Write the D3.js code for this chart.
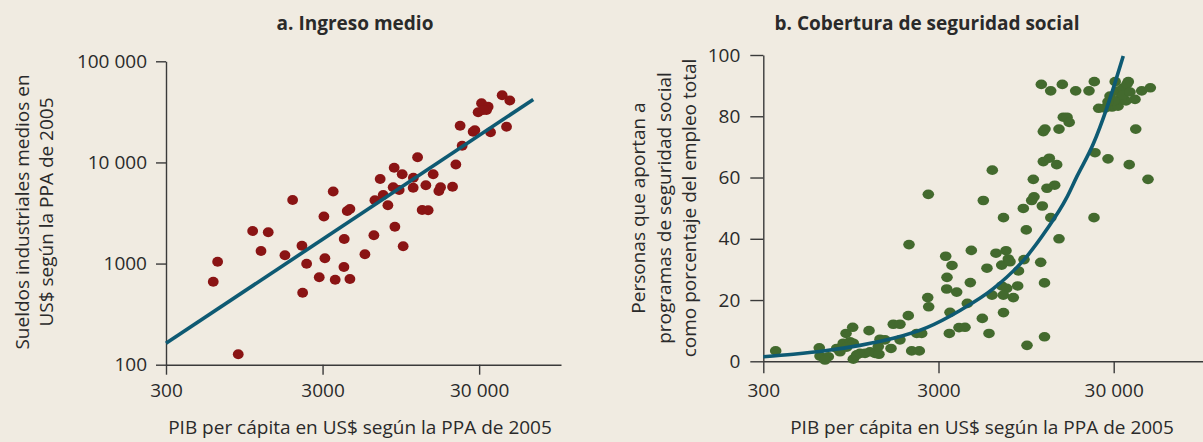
<!DOCTYPE html>
<html><head><meta charset="utf-8">
<script src="https://cdn.jsdelivr.net/npm/d3@7"></script>
<style>
html,body{margin:0;padding:0;background:#f0ebe1;}
svg{display:block;font-family:"Open Sans",sans-serif;}
</style></head>
<body><svg id="chart" width="1203" height="442"></svg>
<script>
// ---- Panel a: Ingreso medio ----
const wageGdp = [601,641,868,1073,1213,1349,1725,1932,2215,2238, 2373,2857,3060,3105,3508,3612,4125,4107,4311,4485, 4485,5593,6381,6477,6999,7317,7842,8475,8600,8689, 9255,9675,9816,11373,11405,12135,12978,13705,14174,15262, 16590,17010,20295,21303,22680,23370,27465,28170,29560,31070, 34250,33450,31830,35480,42080,44890,47100];
const wageValues = [662,1043,127,2099,1331,2038,1207,4253,1502,515, 997,732,2921,1127,5160,693,1750,925,3311,3464, 704,1235,1904,4223,6860,4764,3770,5678,8872,2315, 5340,7634,1482,5626,7063,11240,3386,5943,3363,7634, 5219,5678,5756,9541,23080,14600,20140,20790,31320,38440, 35580,33000,33000,19910,46230,22560,40980];
const fitWageGdp = [300, 66500];
const fitWageValues = [163, 41900];

// ---- Panel b: Cobertura de seguridad social ----
const coverageGdp = [353,626,632,705,675,787,822,890,971,858, 937,979,898,979,1024,1069,1142,1219,1302,1372, 1204,1360,1391,1485,1607,1808,1656,1808,2017,2109, 2331,2253,2406,2036,2604,2637,3297,3582,3354,3341, 3811,3489,3459,3927,4250,4381,4557,4617,5335,5826, 6387,7286,5673,6885,7509,7678,6885,7354,6061,7033, 8020,8494,7049,8583,9228,11494,12082,9600,12082,7049, 9145,10212,11740,13126,14618,23153,9510,5406,2624,6084, 10428,10524,12486,13813,11894,12871,14184,11894,12162,14618, 15468,16240,16716,11587,13107,15268,18206,21685,23250,23465, 27841,36789,47089,40079,24632,43338,48540,39696,30596,36349, 28579,31324,33894,35722,32592,29338,31738,35254,26759,30117, 33894,37169,27841];
const coverageValues = [3.4,4.4,1.7,1.5,0.4,4.2,3.1,9.1,11.1,5.9, 6.4,5.9,4.6,0.7,2.1,2.6,2.6,3.1,2.6,2.3, 10.0,4.8,7.2,7.0,4.2,7.0,12.1,12.1,14.9,3.4, 3.4,9.1,9.1,38.1,20.8,17.8,34.3,31.3,27.4,23.6, 22.6,16.0,9.1,11.0,11.1,18.9,25.7,36.2,14.0,9.1, 35.3,36.1,30.4,31.4,33.4,32.5,24.6,23.8,21.6,21.6, 20.8,24.6,15.9,29.5,33.2,32.3,25.6,5.2,8.0,46.9, 49.9,52.5,50.7,46.9,40.0,46.9,42.9,52.5,54.5,62.4, 59.4,53.7,56.5,57.5,65.2,66.3,64.2,75.0,75.8,75.8, 79.7,79.7,78.0,90.4,88.3,90.4,88.3,88.3,91.3,68.1, 66.1,64.2,59.4,75.8,82.6,88.3,89.3,85.5,91.3,91.3, 86.6,88.2,89.2,90.5,85.6,83.0,83.3,85.0,82.7,85.0, 86.9,87.9,84.7];
const fitCoverageGdp = [300,445,690,1069,1656,2569,3981,6164,9560,12437,16030,18447,22948,27361,30515,34027];
const fitCoverageValues = [1.5,2.3,3.5,5.2,7.5,11.0,16.6,23.7,34.2,43.0,53.0,60.2,71.0,82.6,90.9,99.7];

// ---- Ticks and labels ----
const xTickValues = [300, 3000, 30000];
const xTickLabels = ["300", "3000", "30 000"];
const wageTickValues = [100, 1000, 10000, 100000];
const wageTickLabels = ["100", "1000", "10 000", "100 000"];
const coverageTickValues = [0, 20, 40, 60, 80, 100];
const coverageTickLabels = ["0", "20", "40", "60", "80", "100"];
const titleA = "a. Ingreso medio";
const titleB = "b. Cobertura de seguridad social";
const xTitle = "PIB per cápita en US$ según la PPA de 2005";
const yTitleA = ["Sueldos industriales medios en", "US$ según la PPA de 2005"];
const yTitleB = ["Personas que aportan a", "programas de seguridad social", "como porcentaje del empleo total"];

const BG = "#f0ebe1", RED = "#8a1414", GREEN = "#436a2e", TEAL = "#0e5a73", AXIS = "#3a3a3a", TXT = "#2a2a2a";

const svg = d3.select("#chart");
svg.append("rect").attr("width", 1203).attr("height", 442).attr("fill", BG);

function styleAxis(g) {
  g.selectAll("path.domain").attr("stroke", AXIS).attr("stroke-width", 1.4);
  g.selectAll(".tick line").attr("stroke", AXIS).attr("stroke-width", 1.4);
  g.selectAll(".tick text").attr("fill", TXT).attr("font-size", 19)
    .attr("font-family", "'Open Sans', sans-serif");
}

// ================= Panel a =================
const xA = d3.scaleLog().domain([300, 100000]).range([166, 561]);
const yA = d3.scaleLog().domain([100, 100000]).range([364.7, 61.3]);
const gA = svg.append("g");

gA.append("g").attr("transform", "translate(0,364.7)")
  .call(d3.axisBottom(xA).tickValues(xTickValues)
    .tickFormat((d, i) => xTickLabels[i]).tickSize(10).tickSizeOuter(0).tickPadding(9))
  .call(styleAxis);
gA.append("g").attr("transform", "translate(166,0)")
  .call(d3.axisLeft(yA).tickValues(wageTickValues)
    .tickFormat((d, i) => wageTickLabels[i]).tickSize(10).tickSizeOuter(0).tickPadding(9))
  .call(styleAxis);

gA.append("g").selectAll("ellipse").data(wageGdp).join("ellipse")
  .attr("cx", (d) => xA(d)).attr("cy", (d, i) => yA(wageValues[i]))
  .attr("rx", 5.4).attr("ry", 5).attr("fill", RED);

gA.append("path")
  .datum(fitWageGdp.map((d, i) => [d, fitWageValues[i]]))
  .attr("d", d3.line().x(d => xA(d[0])).y(d => yA(d[1])))
  .attr("fill", "none").attr("stroke", TEAL).attr("stroke-width", 3.6);

gA.append("text").attr("x", 355).attr("y", 30).attr("text-anchor", "middle")
  .attr("font-weight", 700).attr("font-size", 19).attr("fill", TXT).text(titleA);
gA.append("text").attr("x", 360).attr("y", 434).attr("text-anchor", "middle")
  .attr("font-size", 19).attr("fill", TXT).text(xTitle);
yTitleA.forEach((t, i) => {
  gA.append("text").attr("transform", `translate(${28.5 + i * 24},212) rotate(-90)`)
    .attr("text-anchor", "middle").attr("font-size", 19).attr("fill", TXT).text(t);
});

// ================= Panel b =================
const xB = d3.scaleLog().domain([300, 100000]).range([763.3, 763.3 + 175.2 * Math.log10(100000 / 300)]);
const yB = d3.scaleLinear().domain([0, 100]).range([361.3, 55]);
const gB = svg.append("g");

gB.append("g").attr("transform", "translate(0,361.3)")
  .call(d3.axisBottom(xB).tickValues(xTickValues)
    .tickFormat((d, i) => xTickLabels[i]).tickSize(12).tickSizeOuter(0).tickPadding(10))
  .call(styleAxis);
gB.append("g").attr("transform", "translate(763.3,0)")
  .call(d3.axisLeft(yB).tickValues(coverageTickValues)
    .tickFormat((d, i) => coverageTickLabels[i]).tickSize(13).tickSizeOuter(0).tickPadding(10))
  .call(styleAxis);

gB.append("g").selectAll("ellipse").data(coverageGdp).join("ellipse")
  .attr("cx", (d) => xB(d)).attr("cy", (d, i) => yB(coverageValues[i]))
  .attr("rx", 5.8).attr("ry", 4.8).attr("fill", GREEN);

gB.append("path")
  .datum(fitCoverageGdp.map((d, i) => [d, fitCoverageValues[i]]))
  .attr("d", d3.line().x(d => xB(d[0])).y(d => yB(d[1])).curve(d3.curveMonotoneX))
  .attr("fill", "none").attr("stroke", TEAL).attr("stroke-width", 3.6);

gB.append("text").attr("x", 927).attr("y", 30).attr("text-anchor", "middle")
  .attr("font-weight", 700).attr("font-size", 19).attr("fill", TXT).text(titleB);
gB.append("text").attr("x", 982).attr("y", 434).attr("text-anchor", "middle")
  .attr("font-size", 19).attr("fill", TXT).text(xTitle);
yTitleB.forEach((t, i) => {
  gB.append("text").attr("transform", `translate(${645 + i * 25.5},208) rotate(-90)`)
    .attr("text-anchor", "middle").attr("font-size", 19).attr("fill", TXT).text(t);
});
</script>
</body></html>
